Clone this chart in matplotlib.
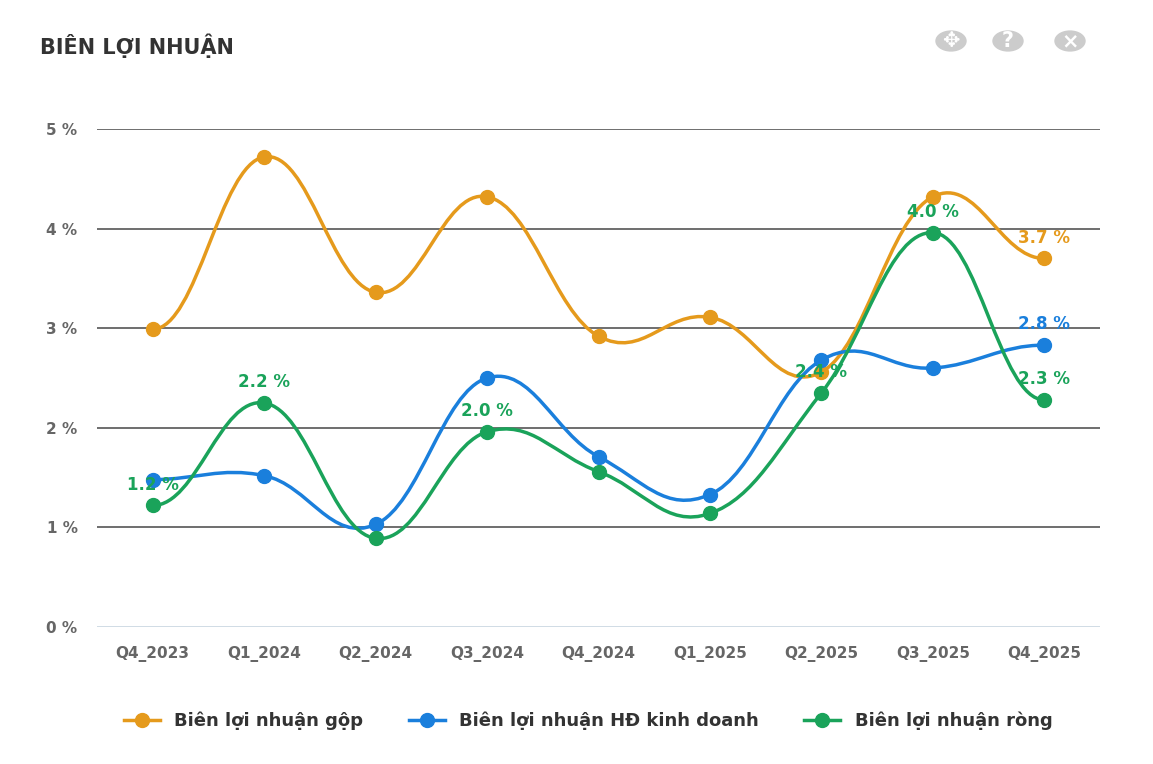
import matplotlib.pyplot as plt
from matplotlib.path import Path
from matplotlib.patches import PathPatch, Circle
from matplotlib.lines import Line2D

quarters = ["Q4_2023", "Q1_2024", "Q2_2024", "Q3_2024", "Q4_2024",
            "Q1_2025", "Q2_2025", "Q3_2025", "Q4_2025"]
data = {
    "Biên lợi nhuận gộp": ([2.99, 4.72, 3.36, 4.32, 2.92, 3.11, 2.56, 4.32, 3.70], "#e59a1c"),
    "Biên lợi nhuận HĐ kinh doanh": ([1.48, 1.52, 1.03, 2.50, 1.71, 1.33, 2.68, 2.60, 2.83], "#1a7fdc"),
    "Biên lợi nhuận ròng": ([1.22, 2.25, 0.89, 1.96, 1.56, 1.14, 2.35, 3.96, 2.28], "#1aa35a"),
}
labels = {
    "Biên lợi nhuận gộp": [8],
    "Biên lợi nhuận HĐ kinh doanh": [8],
    "Biên lợi nhuận ròng": [0, 1, 3, 6, 7, 8],
}


def spline_path(ys):
    # spline kiểu Highcharts: điểm điều khiển nằm ngang 1/2.5 khoảng cách
    xs = list(range(len(ys)))
    verts = [(xs[0], ys[0])]
    codes = [Path.MOVETO]
    def tang(i):
        if i == 0 or i == len(ys) - 1:
            return 0.0
        return (ys[i + 1] - ys[i - 1]) / 2.0
    for i in range(len(ys) - 1):
        d = 1 / 2.5
        verts += [(xs[i] + d, ys[i] + tang(i) * d),
                  (xs[i + 1] - d, ys[i + 1] - tang(i + 1) * d),
                  (xs[i + 1], ys[i + 1])]
        codes += [Path.CURVE4] * 3
    return Path(verts, codes)


fig = plt.figure(figsize=(11.53, 7.64), dpi=100)
ax = fig.add_axes([97 / 1153, 1 - 627 / 764, 1003 / 1153, 498 / 764])
ax.set_xlim(-0.5, 8.5)
ax.set_ylim(0, 5)
for s in ax.spines.values():
    s.set_visible(False)
for v in range(1, 6):
    ax.axhline(v, color="#555555", lw=1.2, zorder=0)
ax.axhline(0, color="#c8d6e0", lw=1.2, zorder=0)
ax.set_yticks(range(6))
ax.set_yticklabels([f"{v} %" for v in range(6)], color="#666666", fontsize=11, fontweight="bold")
ax.set_xticks(range(9))
ax.set_xticklabels(quarters, color="#666666", fontsize=11, fontweight="bold")
ax.tick_params(length=0, pad=14)

handles = []
for name, (ys, c) in data.items():
    ax.add_patch(PathPatch(spline_path(ys), fill=False, edgecolor=c, lw=2.5, zorder=2))
    ax.plot(range(9), ys, "o", color=c, ms=10, zorder=3)
    for i in labels[name]:
        ax.text(i, ys[i] + 0.12, f"{ys[i]:.1f} %", color=c, ha="center", va="bottom",
                fontsize=12, fontweight="bold", zorder=4)
    handles.append(Line2D([], [], color=c, lw=2.5, marker="o", ms=10))

fig.legend(handles, list(data.keys()), loc="center", bbox_to_anchor=(0.51, 1 - 721 / 764),
           ncol=3, frameon=False, prop={"weight": "bold", "size": 13}, labelcolor="#333333",
           handlelength=2, columnspacing=2.5)
fig.text(40 / 1153, 1 - 46 / 764, "BIÊN LỢI NHUẬN", fontsize=15, fontweight="bold",
         color="#333333", va="center")
for cx, g in [(951, "✥"), (1008, "?"), (1070, "×")]:
    fig.patches.append(Circle((cx / 1153, 1 - 41 / 764), 15 / 1153, transform=fig.transFigure,
                              color="#cccccc", zorder=5))
    fig.text(cx / 1153, 1 - 41 / 764, g, color="white", fontsize=15, fontweight="bold",
             ha="center", va="center", zorder=6)

fig.savefig("out.png", dpi=100)
